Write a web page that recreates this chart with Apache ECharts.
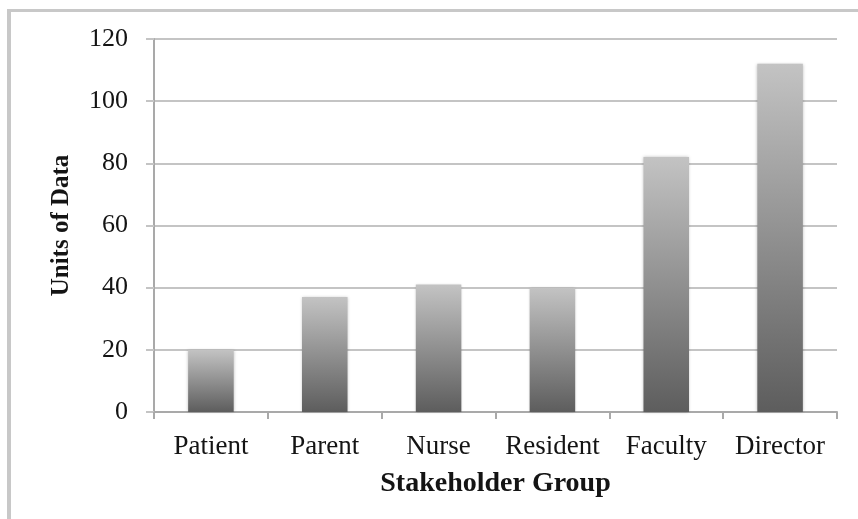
<!DOCTYPE html>
<html>
<head>
<meta charset="utf-8">
<script src="https://cdn.jsdelivr.net/npm/echarts@6/dist/echarts.min.js"></script>
<style>
  html, body { margin: 0; padding: 0; background: #fff; }
  #barChart { width: 858px; height: 519px; }
</style>
</head>
<body>
<div id="barChart"></div>
<script>
// data
var groups = ["Patient", "Parent", "Nurse", "Resident", "Faculty", "Director"];
var units = [20, 37, 41, 40, 82, 112];
var yTicks = { min: 0, max: 120, interval: 20 };

var font = "Liberation Serif";
var axisGray = "#a9a9a9";
var textColor = "#141414";

var barChart = echarts.init(document.getElementById("barChart"));
var barOption = {
  animation: false,
  // frame lines on left and top, as in the picture
  graphic: [
    { type: "rect", shape: { x: 7, y: 9, width: 4, height: 510 }, style: { fill: "#c8c8c8" } },
    { type: "rect", shape: { x: 7, y: 9, width: 851, height: 3 }, style: { fill: "#c8c8c8" } },
  ],
  grid: {
    left: 154,
    right: 21,
    top: 39,
    bottom: 107,
  },
  xAxis: {
    type: "category",
    data: groups,
    name: "Stakeholder Group",
    nameLocation: "middle",
    nameGap: 58,
    nameTextStyle: {
      fontFamily: font,
      fontSize: 28,
      fontWeight: "bold",
      color: textColor,
    },
    axisLine: { lineStyle: { color: axisGray, width: 2 } },
    axisTick: { show: true, interval: 0, length: 7, lineStyle: { color: axisGray, width: 2 } },
    axisLabel: {
      interval: 0,
      hideOverlap: false,
      fontFamily: font,
      fontSize: 27,
      color: textColor,
      margin: 21,
    },
  },
  yAxis: {
    type: "value",
    min: yTicks.min,
    max: yTicks.max,
    interval: yTicks.interval,
    name: "Units of Data",
    nameLocation: "middle",
    nameGap: 80,
    nameTextStyle: {
      fontFamily: font,
      fontSize: 25,
      fontWeight: "bold",
      color: textColor,
    },
    axisLine: { show: true, lineStyle: { color: axisGray, width: 2 } },
    axisTick: { show: true, length: 8, lineStyle: { color: "#c4c4c4", width: 2 } },
    axisLabel: {
      fontFamily: font,
      fontSize: 26,
      color: textColor,
      margin: 26,
    },
    splitLine: { lineStyle: { color: "#c4c4c4", width: 2 } },
  },
  series: [
    {
      type: "bar",
      data: units,
      barWidth: "40%",
      itemStyle: {
        color: new echarts.graphic.LinearGradient(0, 0, 0, 1, [
          { offset: 0, color: "#c3c3c3" },
          { offset: 1, color: "#5d5d5d" },
        ]),
        shadowBlur: 3,
        shadowColor: "rgba(0,0,0,0.25)",
      },
    },
  ],
};
barChart.setOption(barOption);
</script>
</body>
</html>
